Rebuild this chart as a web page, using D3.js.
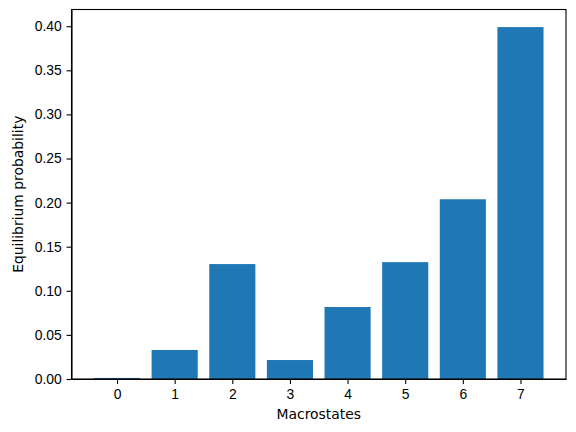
<!DOCTYPE html>
<html>
<head>
<meta charset="utf-8">
<script src="https://cdn.jsdelivr.net/npm/d3@7"></script>
<style>
  body { margin: 0; background: #fff; }
  svg { font-family: 'DejaVu Sans', sans-serif; }
  .axis text { font-size: 13.9px; fill: #000; }
  .axis path, .axis line { stroke: #000; stroke-width: 1.1; }
</style>
</head>
<body>
<div class="graph"></div>
<script>
const states = [0, 1, 2, 3, 4, 5, 6, 7];
const probs = [0.0012, 0.0329, 0.1303, 0.0215, 0.0816, 0.1325, 0.2038, 0.3990];
const yTicks = [0, 0.05, 0.10, 0.15, 0.20, 0.25, 0.30, 0.35, 0.40];

const w = 576;
const h = 432;
const padding = { top: 9.5, right: 10, bottom: 53, left: 71.5 };

// matplotlib style margins: bars of width 0.8, 5% padding
const xScale = d3.scaleLinear()
  .domain([-0.79, 7.79])
  .range([padding.left, w - padding.right]);
const yScale = d3.scaleLinear()
  .domain([0, d3.max(probs) * 1.05])
  .range([h - padding.bottom, padding.top]);

const svg = d3.select('.graph')
  .append('svg')
  .attr('width', w)
  .attr('height', h);

svg.selectAll('rect.bar')
  .data(states)
  .enter()
  .append('rect')
  .attr('class', 'bar')
  .attr('x', (d) => xScale(d - 0.4))
  .attr('width', (d) => xScale(d + 0.4) - xScale(d - 0.4))
  .attr('y', (d, i) => yScale(probs[i]))
  .attr('height', (d, i) => yScale(0) - yScale(probs[i]))
  .attr('fill', '#1f77b4');

svg.append('g')
  .attr('class', 'axis x-axis')
  .attr('transform', `translate(0, ${h - padding.bottom})`)
  .call(d3.axisBottom(xScale)
    .tickValues(states)
    .tickFormat((d) => d)
    .tickSizeInner(4.9)
    .tickSizeOuter(0)
    .tickPadding(4.9));

svg.append('g')
  .attr('class', 'axis y-axis')
  .attr('transform', `translate(${padding.left}, 0)`)
  .call(d3.axisLeft(yScale)
    .tickValues(yTicks)
    .tickFormat(d3.format('.2f'))
    .tickSizeInner(4.9)
    .tickSizeOuter(0)
    .tickPadding(4.9));

// top and right spines
svg.append('rect')
  .attr('x', padding.left)
  .attr('y', padding.top)
  .attr('width', w - padding.right - padding.left)
  .attr('height', h - padding.bottom - padding.top)
  .attr('fill', 'none')
  .attr('stroke', '#000')
  .attr('stroke-width', 1.1);

svg.append('text')
  .attr('x', (padding.left + w - padding.right) / 2)
  .attr('y', 419.3)
  .attr('text-anchor', 'middle')
  .style('font-size', '13.9px')
  .text('Macrostates');

svg.append('text')
  .attr('transform', 'rotate(-90)')
  .attr('x', -(padding.top + h - padding.bottom) / 2)
  .attr('y', 22.7)
  .attr('text-anchor', 'middle')
  .style('font-size', '13.9px')
  .text('Equilibrium probability');
</script>
</body>
</html>
